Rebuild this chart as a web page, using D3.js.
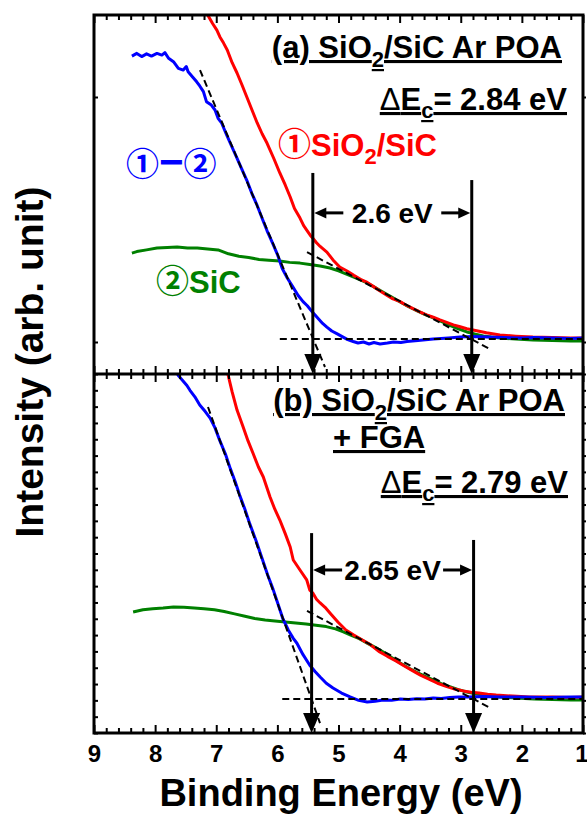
<!DOCTYPE html>
<html>
<head>
<meta charset="utf-8">
<title>SiO2/SiC band offset</title>
<script src="https://d3js.org/d3.v7.min.js"></script>
<style>
body { margin: 0; background: #fff; }
text { font-family: "Liberation Sans", Arial, sans-serif; font-weight: bold; fill: #000; }
</style>
</head>
<body>
<script>
// ---- data (binding energy eV, intensity arb.) ----
var xTicks = [9, 8, 7, 6, 5, 4, 3, 2, 1];

// panel (a) SiO2/SiC Ar POA
var redA = [[7.25,1.40],[7.14,1.335],[7.06,1.30],[6.99,1.273],[6.94,1.245],[6.88,1.22],[6.82,1.192],[6.74,1.14],[6.66,1.098],[6.58,1.05],[6.50,1.0],[6.42,0.95],[6.33,0.894],[6.25,0.85],[6.17,0.812],[6.06,0.75],[5.96,0.690],[5.87,0.64],[5.79,0.592],[5.72,0.545],[5.63,0.506],[5.57,0.475],[5.52,0.457],[5.46,0.435],[5.42,0.424],[5.36,0.405],[5.30,0.390],[5.19,0.367],[5.09,0.335],[4.98,0.306],[4.86,0.290],[4.75,0.272],[4.64,0.256],[4.53,0.243],[4.42,0.225],[4.32,0.208],[4.21,0.191],[4.11,0.176],[4.00,0.166],[3.89,0.150],[3.78,0.136],[3.67,0.123],[3.56,0.111],[3.45,0.101],[3.34,0.090],[3.23,0.080],[3.12,0.070],[3.01,0.062],[2.90,0.054],[2.80,0.049],[2.58,0.038],[2.36,0.029],[2.10,0.024],[1.82,0.020],[1.50,0.018],[1.20,0.016],[1.00,0.016]];
var greenA = [[8.38,0.363],[8.30,0.369],[8.14,0.376],[7.97,0.384],[7.80,0.386],[7.64,0.388],[7.47,0.384],[7.31,0.384],[7.14,0.380],[6.97,0.376],[6.80,0.360],[6.63,0.350],[6.47,0.345],[6.30,0.337],[6.14,0.334],[5.96,0.331],[5.80,0.325],[5.63,0.322],[5.47,0.316],[5.30,0.310],[5.14,0.302],[5.00,0.290],[4.85,0.275],[4.70,0.260],[4.53,0.241],[4.40,0.222],[4.26,0.202],[4.13,0.183],[3.99,0.163],[3.86,0.145],[3.72,0.128],[3.59,0.113],[3.45,0.098],[3.32,0.084],[3.18,0.068],[3.04,0.054],[2.90,0.041],[2.76,0.032],[2.63,0.025],[2.50,0.020],[2.36,0.016],[2.10,0.012],[1.82,0.008],[1.50,0.006],[1.20,0.004],[1.00,0.004]];
var blueA = [[8.38,1.167],[8.30,1.178],[8.22,1.165],[8.14,1.176],[8.06,1.167],[7.97,1.178],[7.89,1.171],[7.84,1.181],[7.78,1.158],[7.70,1.144],[7.62,1.117],[7.54,1.110],[7.49,1.124],[7.46,1.103],[7.38,1.080],[7.32,1.062],[7.27,1.045],[7.21,1.022],[7.16,0.981],[7.08,0.967],[7.02,0.947],[6.97,0.913],[6.91,0.893],[6.83,0.845],[6.75,0.800],[6.67,0.756],[6.58,0.705],[6.50,0.660],[6.42,0.608],[6.34,0.563],[6.25,0.505],[6.17,0.455],[6.08,0.405],[6.00,0.358],[5.92,0.300],[5.84,0.262],[5.74,0.222],[5.66,0.190],[5.58,0.165],[5.51,0.148],[5.42,0.120],[5.34,0.098],[5.26,0.076],[5.19,0.061],[5.11,0.045],[5.02,0.033],[4.94,0.022],[4.85,0.010],[4.76,0.002],[4.68,-0.004],[4.59,0.000],[4.50,-0.008],[4.42,-0.002],[4.32,-0.008],[4.20,-0.004],[4.10,0.000],[3.98,-0.002],[3.88,0.002],[3.70,0.006],[3.45,0.012],[3.20,0.016],[3.01,0.020],[2.80,0.022],[2.57,0.020],[2.30,0.018],[2.00,0.016],[1.80,0.018],[1.50,0.016],[1.20,0.014],[1.00,0.016]];
var dashA = [[[7.266,1.110],[5.221,-0.102]], [[5.96,0.012],[1.0,0.012]], [[5.515,0.367],[2.521,-0.029]]];
var arrowsA = [[5.42,0.69],[2.82,0.661]];
var gapA = {label: "2.6 eV", v: 0.527};

// panel (b) SiO2/SiC Ar POA + FGA
var redB = [[6.85,22.4],[6.81,22.0],[6.74,20.9],[6.66,19.79],[6.56,18.75],[6.48,17.9],[6.40,17.16],[6.31,16.3],[6.23,15.69],[6.12,14.46],[6.04,13.7],[5.96,13.05],[5.87,12.2],[5.79,11.40],[5.74,10.60],[5.63,9.99],[5.52,9.38],[5.47,8.76],[5.42,8.58],[5.36,8.2],[5.30,7.97],[5.22,7.7],[5.14,7.35],[5.01,6.8],[4.88,6.31],[4.75,6.0],[4.61,5.70],[4.48,5.42],[4.34,5.0],[4.20,4.7],[4.06,4.42],[3.93,4.12],[3.79,3.82],[3.66,3.55],[3.52,3.30],[3.38,3.05],[3.24,2.86],[3.10,2.70],[2.96,2.58],[2.83,2.50],[2.70,2.45],[2.56,2.38],[2.42,2.33],[2.15,2.26],[1.88,2.21],[1.50,2.21],[1.20,2.18],[1.00,2.21]];
var greenB = [[8.36,7.41],[8.20,7.55],[8.04,7.62],[7.87,7.66],[7.70,7.72],[7.53,7.70],[7.36,7.66],[7.20,7.62],[7.03,7.55],[6.87,7.45],[6.70,7.30],[6.53,7.15],[6.37,7.02],[6.20,6.92],[6.04,6.86],[5.87,6.80],[5.70,6.74],[5.53,6.68],[5.37,6.60],[5.20,6.52],[5.05,6.38],[4.92,6.2],[4.80,6.0],[4.66,5.78],[4.53,5.51],[4.40,5.25],[4.26,4.95],[4.13,4.62],[3.99,4.29],[3.86,4.0],[3.72,3.72],[3.59,3.48],[3.45,3.25],[3.32,3.03],[3.18,2.84],[3.04,2.66],[2.90,2.51],[2.76,2.40],[2.63,2.32],[2.50,2.25],[2.36,2.21],[2.10,2.14],[1.80,2.08],[1.50,2.05],[1.20,2.02],[1.00,2.02]];
var blueB = [[7.68,22.3],[7.62,21.9],[7.55,21.6],[7.48,21.3],[7.43,21.0],[7.35,20.6],[7.27,20.1],[7.18,19.7],[7.10,19.3],[7.02,18.7],[6.94,17.9],[6.85,17.1],[6.77,16.2],[6.69,15.4],[6.61,14.5],[6.53,13.7],[6.45,12.8],[6.35,11.8],[6.25,10.7],[6.16,9.7],[6.07,8.8],[5.99,7.9],[5.91,7.0],[5.82,6.3],[5.74,5.8],[5.68,5.5],[5.58,4.8],[5.47,4.15],[5.38,3.75],[5.30,3.43],[5.20,3.05],[5.09,2.76],[4.95,2.45],[4.81,2.21],[4.67,2.0],[4.53,1.9],[4.40,1.95],[4.27,2.02],[4.13,2.0],[3.99,2.08],[3.86,2.05],[3.72,2.1],[3.59,2.08],[3.45,2.14],[3.32,2.12],[3.18,2.18],[3.04,2.2],[2.90,2.21],[2.63,2.24],[2.36,2.21],[2.0,2.21],[1.6,2.18],[1.2,2.21],[1.0,2.21]];
var dashB = [[[7.135,19.98],[5.303,0.61]], [[5.92,2.08],[1.0,2.08]], [[5.515,7.48],[2.50,1.50]]];
var arrowsB = [[5.44,12.25],[2.79,11.83]];
var gapB = {label: "2.65 eV", v: 9.99};

// ---- layout ----
var W = 587, H = 814;
var pL = 94, pR = 583, pT = 15, pM = 374, pB = 733;
var RED = "#ff0000", GREEN = "#008000", BLUE = "#0000ff";

var svg = d3.select("body").append("svg")
    .attr("width", W)
    .attr("height", H);

var x = d3.scaleLinear().domain([9, 1]).range([pL, pR]);
var yA = d3.scaleLinear().domain([-0.1306, 1.3347]).range([pM, pT]);
var yB = d3.scaleLinear().domain([0, 22]).range([pB, pM]);

var defs = svg.append("defs");
defs.append("clipPath").attr("id", "clipA").append("rect")
    .attr("x", pL).attr("y", pT).attr("width", pR - pL).attr("height", pM - pT);
defs.append("clipPath").attr("id", "clipB").append("rect")
    .attr("x", pL).attr("y", pM).attr("width", pR - pL).attr("height", pB - pM);

function drawPanel(clip, y, red, green, blue, dashes, arrows, gap) {
    var line = d3.line().x(function(d) { return x(d[0]); }).y(function(d) { return y(d[1]); });
    var g = svg.append("g").attr("clip-path", "url(#" + clip + ")");
    [[green, GREEN], [red, RED], [blue, BLUE]].forEach(function(c) {
        g.append("path").attr("d", line(c[0]))
            .attr("fill", "none").attr("stroke", c[1])
            .attr("stroke-width", 3).attr("stroke-linejoin", "round");
    });
    dashes.forEach(function(d) {
        g.append("path").attr("d", line(d))
            .attr("fill", "none").attr("stroke", "#000")
            .attr("stroke-width", 2).attr("stroke-dasharray", "7,4");
    });
    var yBase = y.range()[0];
    arrows.forEach(function(a) {
        var xa = x(a[0]);
        svg.append("line")
            .attr("x1", xa).attr("x2", xa)
            .attr("y1", y(a[1])).attr("y2", yBase - 15)
            .attr("stroke", "#000").attr("stroke-width", 3);
        svg.append("path")
            .attr("d", "M" + (xa - 8.5) + "," + (yBase - 20) + "L" + (xa + 8.5) + "," + (yBase - 20) + "L" + xa + "," + yBase + "Z")
            .attr("fill", "#000");
    });
    // double-headed gap arrow with label
    var x1 = x(arrows[0][0]) + 1.5, x2 = x(arrows[1][0]) - 1.5, yg = y(gap.v);
    [[x1, 1], [x2, -1]].forEach(function(p) {
        var tip = p[0], s = p[1];
        svg.append("line")
            .attr("x1", tip + s * 8).attr("x2", tip + s * 29)
            .attr("y1", yg).attr("y2", yg)
            .attr("stroke", "#000").attr("stroke-width", 3);
        svg.append("path")
            .attr("d", "M" + tip + "," + yg + "L" + (tip + s * 12) + "," + (yg - 5.5) + "L" + (tip + s * 12) + "," + (yg + 5.5) + "Z")
            .attr("fill", "#000");
    });
    svg.append("text")
        .attr("x", (x1 + x2) / 2).attr("y", yg).attr("dy", "0.36em")
        .attr("text-anchor", "middle")
        .style("font-size", "28px")
        .text(gap.label);
}

drawPanel("clipA", yA, redA, greenA, blueA, dashA, arrowsA, gapA);
drawPanel("clipB", yB, redB, greenB, blueB, dashB, arrowsB, gapB);

// ---- axes ----
var minors = d3.range(5, 46).map(function(d) { return d / 5; })
    .filter(function(d) { return Math.abs(d - Math.round(d)) > 1e-6; });

function xAxis(gen, yPos, size, labels) {
    var gm = svg.append("g").attr("transform", "translate(0," + yPos + ")")
        .call(gen(x).tickValues(minors).tickSize(size).tickFormat(""));
    var gM = svg.append("g").attr("transform", "translate(0," + yPos + ")")
        .call(gen(x).tickValues(xTicks).tickSize(size * 1.6).tickPadding(12)
            .tickFormat(labels ? d3.format("d") : ""));
    [gm, gM].forEach(function(g) {
        g.select(".domain").remove();
        g.selectAll("line").attr("stroke-width", 2);
        g.selectAll("text").style("font-size", "24px");
    });
    if (labels) gM.selectAll("text").filter(function(d) { return d === 1; }).attr("dx", -1.5);
}
xAxis(d3.axisTop, pT, -5, false);
xAxis(d3.axisBottom, pM, -5, false);
xAxis(d3.axisTop, pM, -5, false);
xAxis(d3.axisBottom, pB, -5, true);

function yAxis(y, vals) {
    [[d3.axisLeft, pL, -4], [d3.axisRight, pR, 3]].forEach(function(a) {
        var g = svg.append("g").attr("transform", "translate(" + a[1] + ",0)")
            .call(a[0](y).tickValues(vals).tickSize(a[2]).tickFormat(""));
        g.select(".domain").remove();
        g.selectAll("line").attr("stroke-width", 2);
    });
}
yAxis(yA, [0, 1]);
yAxis(yB, d3.range(0, 23));

svg.append("rect")
    .attr("x", pL).attr("y", pT).attr("width", pR - pL).attr("height", pB - pT)
    .attr("fill", "none").attr("stroke", "#000").attr("stroke-width", 3);
svg.append("line")
    .attr("x1", pL).attr("x2", pR).attr("y1", pM).attr("y2", pM)
    .attr("stroke", "#000").attr("stroke-width", 3);

// ---- texts ----
var CJK = '"Noto Sans CJK JP", "DejaVu Sans", sans-serif';

function title(xp, yp, anchor, parts) {
    var t = svg.append("text").attr("x", xp).attr("y", yp)
        .attr("text-anchor", anchor)
        .style("font-size", "31px");
    parts.forEach(function(p) {
        var s = t.append("tspan").text(p.t);
        if (p.dy) s.attr("dy", p.dy);
        if (p.sub) s.style("font-size", "22px");
        if (p.thin) s.style("font-weight", "normal");
        if (p.cjk) s.style("font-family", CJK).style("font-weight", "bold").style("font-size", "33px");
        if (p.size) s.style("font-size", p.size);
        if (p.u) s.style("text-decoration", "underline");
        if (p.fill) s.style("fill", p.fill);
    });
    return t;
}

title(562, 58, "end", [{t: "(a) SiO", u: 1}, {t: "2", dy: 9, sub: 1, u: 1}, {t: "/SiC Ar POA", dy: -9, u: 1}]);
title(567, 110, "end", [{t: "Δ", thin: 1, u: 1}, {t: "E", u: 1}, {t: "c", dy: 8, sub: 1, u: 1}, {t: "= 2.84 eV", dy: -8, u: 1}]);
title(565, 411, "end", [{t: "(b) SiO", u: 1}, {t: "2", dy: 9, sub: 1, u: 1}, {t: "/SiC Ar POA", dy: -9, u: 1}]);
title(333, 448, "start", [{t: "+ FGA", u: 1}]);
title(568, 493, "end", [{t: "Δ", thin: 1, u: 1}, {t: "E", u: 1}, {t: "c", dy: 8, sub: 1, u: 1}, {t: "= 2.79 eV", dy: -8, u: 1}]);

title(278, 156, "start", [{t: "①", cjk: 1, fill: RED}, {t: "SiO", fill: RED}, {t: "2", dy: 8, sub: 1, fill: RED}, {t: "/SiC", dy: -8, fill: RED}]);
title(126, 176, "start", [{t: "①", cjk: 1, fill: BLUE}, {t: "−", size: "42px", fill: BLUE}, {t: "②", cjk: 1, fill: BLUE}]);
title(156, 293, "start", [{t: "②", cjk: 1, fill: GREEN}, {t: "SiC", fill: GREEN}]);

svg.append("text")
    .attr("x", 341).attr("y", 806)
    .attr("text-anchor", "middle")
    .style("font-size", "38px")
    .text("Binding Energy (eV)");

svg.append("text")
    .attr("transform", "translate(43,362) rotate(-90)")
    .attr("text-anchor", "middle")
    .style("font-size", "39px")
    .text("Intensity (arb. unit)");
</script>
</body>
</html>
